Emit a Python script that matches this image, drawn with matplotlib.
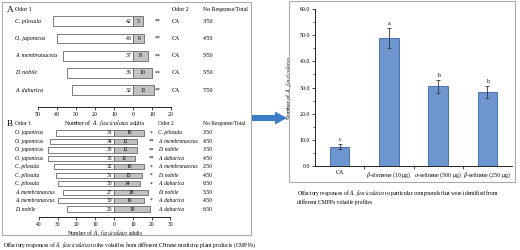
import matplotlib
matplotlib.use("Agg")
import matplotlib.pyplot as plt
import matplotlib.transforms as mtransforms
from matplotlib.patches import Rectangle, FancyArrow

plt.rcParams["font.family"] = ["Liberation Serif", "DejaVu Serif"]
plt.rcParams["mathtext.fontset"] = "stix"

W, H = 520, 250

# Panel A: CMPP odor vs clean air
a_odor1 = ["C. pilosula", "O. japonicus", "A. membranaceus", "D. nobile", "A. dahurica"]
a_left = [42, 40, 37, 35, 32]
a_right = [5, 6, 8, 10, 11]
a_sig = ["**", "**", "**", "**", "**"]
a_odor2 = ["CA", "CA", "CA", "CA", "CA"]
a_resp = ["3/50", "4/50", "5/50", "5/50", "7/50"]

# Panel B: CMPP vs CMPP
b_odor1 = ["O. japonicus", "O. japonicus", "O. japonicus", "O. japonicus", "C. pilosula",
           "C. pilosula", "C. pilosula", "A. membranaceus", "A. membranaceus", "D. nobile"]
b_left = [31, 34, 35, 35, 32, 31, 30, 27, 30, 25]
b_right = [16, 12, 12, 11, 16, 15, 14, 18, 16, 19]
b_sig = ["*", "**", "**", "**", "*", "*", "*", "", "*", ""]
b_odor2 = ["C. pilosula", "A. membranaceus", "D. nobile", "A. dahurica", "A. membranaceus",
           "D. nobile", "A. dahurica", "D. nobile", "A. dahurica", "A. dahurica"]
b_resp = ["3/50", "4/50", "3/50", "4/50", "2/50", "4/50", "6/50", "5/50", "4/50", "6/50"]

# Right panel: single compounds
c_labels = ["CA", r"$\beta$-elemene (10 μg)", r"$\alpha$-selinene (500 μg)", r"$\beta$-selinene (250 μg)"]
c_means = [7.4, 48.8, 30.4, 28.1]
c_err = [1.0, 3.8, 2.6, 2.3]
c_letters = ["c", "a", "b", "b"]

fig = plt.figure(figsize=(W / 100, H / 100), dpi=100)


def px_axes(x0, y0, x1, y1):
    return fig.add_axes([x0 / W, 1 - y1 / H, (x1 - x0) / W, (y1 - y0) / H])


xpx = mtransforms.Affine2D().scale(1 / W, 1 / H) + fig.transFigure


def choice_panel(ax, letter, odor1, left, right, sig, odor2, resp, xmin, xmax,
                 ylim, head_y, cols, fs, bh, odor2_italic):
    n = len(odor1)
    rows = list(range(n))
    ax.barh(rows, [-v for v in left], height=bh, color="white", edgecolor="#666666", lw=0.6)
    ax.barh(rows, right, height=bh, color="#c2c2c2", edgecolor="#666666", lw=0.6)
    for i in rows:
        ax.text(-0.8, i, str(left[i]), ha="right", va="center", fontsize=fs)
        ax.text(right[i] / 2, i, str(right[i]), ha="center", va="center", fontsize=fs)
    ax.set_xlim(xmin, xmax)
    ax.set_ylim(*ylim)
    for s in ["left", "right", "top"]:
        ax.spines[s].set_visible(False)
    ax.spines["bottom"].set_linewidth(0.6)
    ticks = list(range(xmin, xmax + 1, 10))
    ax.set_xticks(ticks)
    ax.set_xticklabels([str(abs(t)) for t in ticks])
    ax.set_yticks([])
    ax.tick_params(axis="x", length=2, width=0.5, labelsize=fs, pad=1.5)
    ax.set_xlabel(r"Number of  $\it{A.\ fasciculatus}$ adults", fontsize=fs, labelpad=1)
    ax.patch.set_visible(False)

    tr = mtransforms.blended_transform_factory(xpx, ax.transData)
    x_lab, x_sig, x_od2, x_resp = cols
    ax.text(7, head_y, letter, transform=tr, fontsize=fs + 2.5, va="center", ha="left")
    ax.text(x_lab, head_y, "Odor 1", transform=tr, fontsize=fs, va="center")
    ax.text(x_od2, head_y, "Odor 2", transform=tr, fontsize=fs, va="center")
    ax.text(x_resp, head_y, "No Response/Total", transform=tr, fontsize=fs, va="center")
    for i in rows:
        ax.text(x_lab, i, odor1[i], transform=tr, fontsize=fs, va="center", style="italic")
        ax.text(x_sig, i, sig[i], transform=tr, fontsize=fs, va="center", ha="center")
        ax.text(x_od2, i, odor2[i], transform=tr, fontsize=fs, va="center",
                style="italic" if odor2_italic else "normal")
        ax.text(x_resp, i, resp[i], transform=tr, fontsize=fs, va="center")


# frames
fig.patches.append(Rectangle((2 / W, 1 - 235 / H), 249 / W, 233 / H, transform=fig.transFigure,
                             fill=False, edgecolor="#aaaaaa", lw=0.8))
fig.patches.append(Rectangle((289 / W, 1 - 182 / H), 226 / W, 181 / H, transform=fig.transFigure,
                             fill=False, edgecolor="#aaaaaa", lw=0.8))

axA = px_axes(38, 5, 171, 107)
choice_panel(axA, "A", a_odor1, a_left, a_right, a_sig, a_odor2, a_resp, -50, 20,
             (4.983, -0.948), -0.66, (15, 158, 172, 203), 4.2, 0.58, False)

axB = px_axes(38.8, 120, 170.4, 217)
choice_panel(axB, "B", b_odor1, b_left, b_right, b_sig, b_odor2, b_resp, -40, 30,
             (9.94, -1.538), -1.07, (15, 151, 158, 203), 4.0, 0.62, True)

fig.text(3 / W, 1 - 245 / H,
         r"Olfactory responses of $\it{A.\ fasciculatus}$ to the volatiles from different Chinese medicine plant products (CMPPs)",
         fontsize=4.05, va="center")

# arrow
fig.patches.append(FancyArrow(252 / W, 1 - 118 / H, 35 / W, 0, width=6 / H, head_width=13 / H,
                              head_length=12 / W, length_includes_head=True,
                              transform=fig.transFigure, color="#3d7cc9", lw=0))

# right bar chart
axC = px_axes(315, 9, 512, 166)
x = list(range(len(c_labels)))
axC.bar(x, c_means, width=0.4, color="#6d96d1", edgecolor="#3a64a0", lw=0.6,
        yerr=c_err, error_kw=dict(ecolor="#333333", elinewidth=0.6, capsize=1.5, capthick=0.6))
for i in x:
    axC.text(i, c_means[i] + c_err[i] + 0.8, c_letters[i], ha="center", va="bottom", fontsize=4.2)
axC.set_xlim(-0.5, 3.5)
axC.set_ylim(0, 60)
axC.set_yticks(range(0, 61, 10))
axC.set_yticklabels([f"{v:.1f}" for v in range(0, 61, 10)])
axC.set_yticks(range(0, 61, 5), minor=True)
axC.set_xticks(x)
axC.set_xticklabels(c_labels)
axC.set_xticks([0.5, 1.5, 2.5], minor=True)
axC.tick_params(axis="x", which="major", length=0, labelsize=4.2, pad=3)
axC.tick_params(axis="x", which="minor", length=2.5, width=0.5)
axC.tick_params(axis="y", which="major", length=2.5, width=0.5, labelsize=4.2, pad=1)
axC.tick_params(axis="y", which="minor", length=1.5, width=0.4)
for s in ["right", "top"]:
    axC.spines[s].set_visible(False)
for s in ["left", "bottom"]:
    axC.spines[s].set_linewidth(0.6)
axC.set_ylabel(r"Number of $\it{A.\ fasciculatus}$", fontsize=4.2, labelpad=4)

fig.text(297 / W, 1 - 193 / H,
         r"Olfactory responses of $\it{A.\ fasciculatus}$ to particular compounds that were identified from",
         fontsize=4.05, va="center")
fig.text(297 / W, 1 - 202 / H, "different CMPPs volatile profiles", fontsize=4.05, va="center")

fig.savefig("out.png", dpi=100)
